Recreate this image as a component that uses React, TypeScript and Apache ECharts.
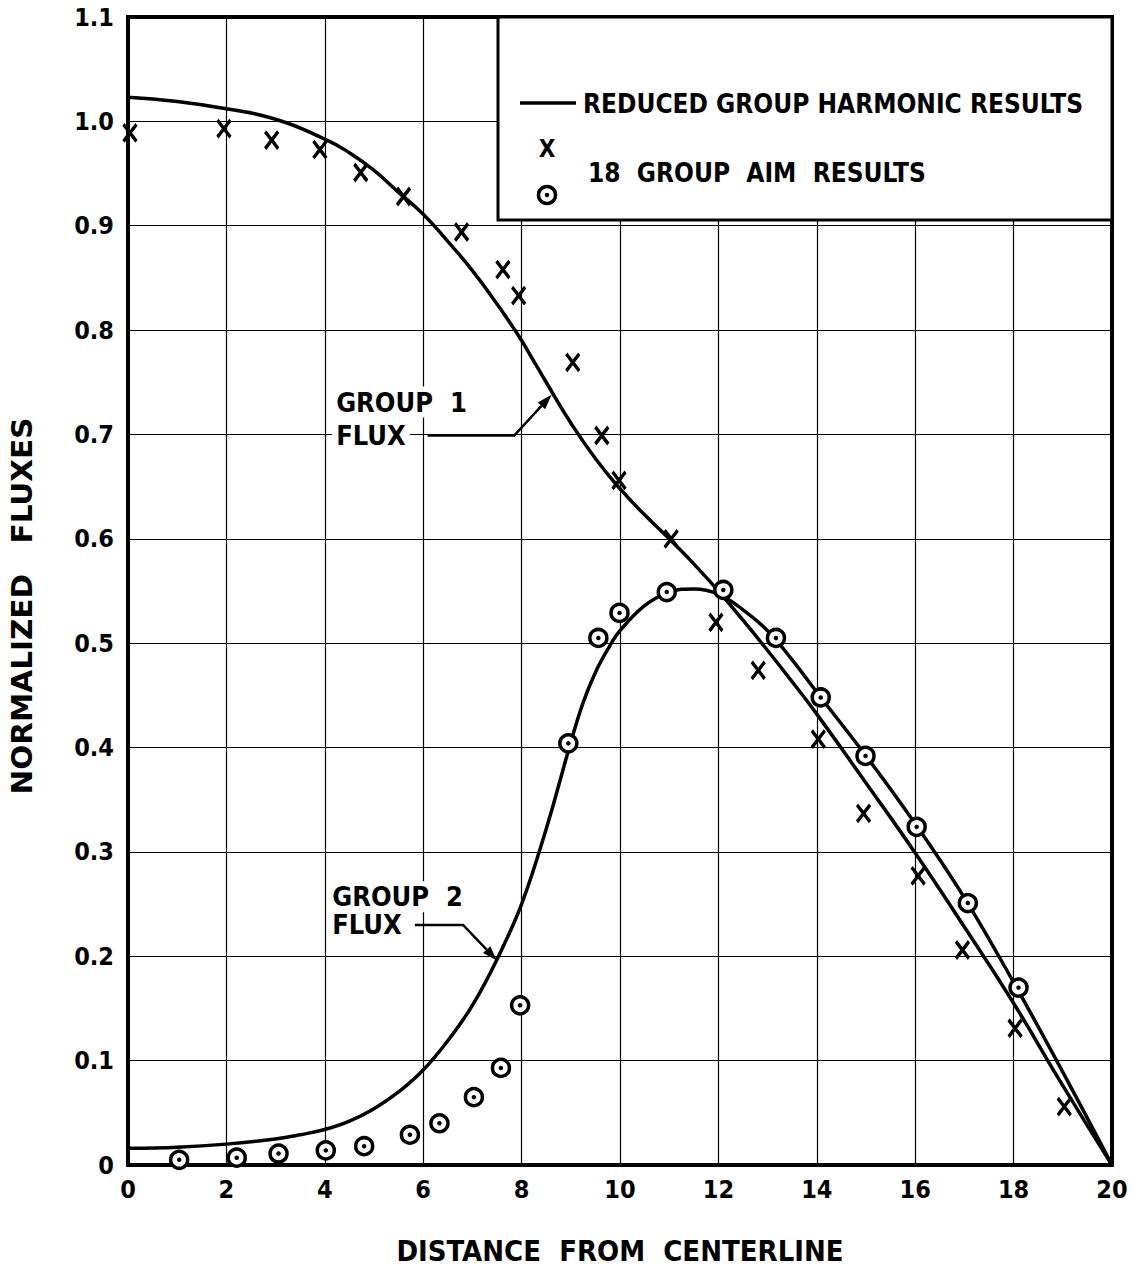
import React, { useEffect, useRef } from "react";
import * as echarts from "echarts";

// Reduced group harmonic results (solid curves)
const group1Curve: [number, number][] = [
  [0, 1.023], [1, 1.019], [2, 1.012], [3, 1.002], [4, 0.983], [4.5, 0.970],
  [5, 0.953], [5.5, 0.932], [6, 0.911], [6.5, 0.885], [7, 0.857], [7.5, 0.825],
  [7.75, 0.808], [8, 0.790], [8.25, 0.770], [8.5, 0.750], [9, 0.711], [9.5, 0.677],
  [10, 0.648], [10.5, 0.623], [11, 0.600], [11.5, 0.576], [12, 0.550], [12.5, 0.522],
  [13, 0.493], [13.5, 0.463], [14, 0.432], [15, 0.366], [16, 0.299], [17, 0.228],
  [18, 0.155], [19, 0.076], [20, 0],
];
const group2Curve: [number, number][] = [
  [0, 0.016], [1, 0.017], [2, 0.020], [3, 0.025], [3.5, 0.029], [4, 0.034], [4.5, 0.042],
  [5, 0.054], [5.5, 0.070], [6, 0.091], [6.5, 0.119], [7, 0.153], [7.5, 0.197],
  [8, 0.250], [8.5, 0.322], [9, 0.405], [9.25, 0.443], [9.5, 0.472], [9.75, 0.494],
  [10, 0.512], [10.5, 0.536], [11, 0.549], [11.5, 0.552], [12, 0.547], [12.5, 0.532],
  [13, 0.512], [13.5, 0.484], [14, 0.453], [15, 0.392], [16, 0.327], [17, 0.256],
  [18, 0.175], [19, 0.089], [20, 0],
];
// 18 group AIM results
const group1Aim: [number, number][] = [
  [0.04, 0.989], [1.95, 0.993], [2.92, 0.982], [3.9, 0.973], [4.73, 0.951],
  [5.6, 0.928], [6.78, 0.894], [7.62, 0.858], [7.94, 0.833], [9.04, 0.769],
  [9.63, 0.699], [9.98, 0.656], [11.04, 0.600], [11.95, 0.520], [12.81, 0.474],
  [14.03, 0.408], [14.95, 0.337], [16.06, 0.277], [16.96, 0.206], [18.03, 0.131],
  [19.03, 0.056],
];
const group2Aim: [number, number][] = [
  [1.04, 0.005], [2.21, 0.007], [3.06, 0.011], [4.02, 0.014], [4.8, 0.018],
  [5.73, 0.029], [6.33, 0.040], [7.03, 0.065], [7.58, 0.093], [7.97, 0.153],
  [8.95, 0.404], [9.56, 0.505], [9.99, 0.529], [10.95, 0.549], [12.1, 0.551],
  [13.17, 0.505], [14.08, 0.448], [14.99, 0.392], [16.03, 0.324], [17.07, 0.251],
  [18.1, 0.170],
];

const FONT = "'DejaVu Sans Condensed', 'DejaVu Sans', sans-serif";

export default function App() {
  const ref = useRef<HTMLDivElement>(null);
  useEffect(() => {
    if (!ref.current) return;
    const chart = echarts.init(ref.current, null, { renderer: "svg" });
    const axisLabel = { color: "#000", fontSize: 25, fontWeight: "bold" as const, fontFamily: FONT };
    chart.setOption({
      animation: false,
      backgroundColor: "#fff",
      grid: {
        left: 128, right: 26, top: 17, bottom: 113,
        show: true, borderColor: "#000", borderWidth: 4, backgroundColor: "transparent",
      },
      xAxis: {
        type: "value", min: 0, max: 20, interval: 2,
        axisLine: { show: true, lineStyle: { color: "#000", width: 4 } },
        axisTick: { show: false },
        axisLabel: { ...axisLabel, margin: 12 },
        splitLine: { show: true, lineStyle: { color: "#000", width: 1.2 } },
      },
      yAxis: {
        type: "value", min: 0, max: 1.1, interval: 0.1,
        axisLine: { show: true, lineStyle: { color: "#000", width: 4 } },
        axisTick: { show: false },
        axisLabel: {
          ...axisLabel, margin: 14,
          formatter: (v: number) => (Math.abs(v) < 1e-9 ? "0" : v.toFixed(1)),
        },
        splitLine: { show: true, lineStyle: { color: "#000", width: 1.2 } },
      },
      series: [
        {
          name: "Group 1 harmonic", type: "line", data: group1Curve, smooth: 0.5,
          showSymbol: false, lineStyle: { color: "#000", width: 3.5 }, z: 3,
        },
        {
          name: "Group 2 harmonic", type: "line", data: group2Curve, smooth: 0.4,
          showSymbol: false, lineStyle: { color: "#000", width: 3.5 }, z: 3,
        },
        {
          name: "Group 1 AIM", type: "scatter", data: group1Aim,
          symbol: "path://M0,0L13,17M13,0L0,17", symbolSize: [13, 17],
          itemStyle: { color: "#000", borderColor: "#000", borderWidth: 3.5, opacity: 1 }, z: 4,
        },
        {
          name: "Group 2 AIM", type: "scatter", data: group2Aim,
          symbol: "circle", symbolSize: 17,
          itemStyle: { color: "#fff", borderColor: "#000", borderWidth: 3.5, opacity: 1 }, z: 4,
        },
        {
          name: "Group 2 AIM dot", type: "scatter", data: group2Aim,
          symbol: "circle", symbolSize: 4.5, silent: true,
          itemStyle: { color: "#000", opacity: 1 }, z: 5,
        },
      ],
    });

    const px = (x: number, y: number) => chart.convertToPixel({ gridIndex: 0 }, [x, y]) as number[];
    const arrow = (pts: number[][]) => {
      const p = pts.map(([x, y]) => px(x, y));
      const tip = p[p.length - 1];
      const prev = p[p.length - 2];
      const dx = tip[0] - prev[0], dy = tip[1] - prev[1];
      const len = Math.hypot(dx, dy);
      const ux = dx / len, uy = dy / len;
      const L = 15, W = 5;
      const bx = tip[0] - ux * L, by = tip[1] - uy * L;
      const head = [tip, [bx - uy * W, by + ux * W], [bx + uy * W, by - ux * W]];
      const linePts = p.slice(0, -1).concat([[bx, by]]);
      return [
        { type: "polyline", z: 20, shape: { points: linePts }, style: { stroke: "#000", lineWidth: 2.5, fill: null } },
        { type: "polygon", z: 20, shape: { points: head }, style: { fill: "#000" } },
      ];
    };
    const label = (text: string, x: number, y: number) => {
      const p = px(x, y);
      return {
        type: "text", z: 19, x: p[0], y: p[1],
        style: {
          text, fill: "#000", font: `bold 27px ${FONT}`,
          align: "left", verticalAlign: "middle",
          backgroundColor: "#fff", padding: [2, 4],
        },
      };
    };

    chart.setOption({
      graphic: [
        // legend box
        { type: "rect", z: 30, shape: { x: 498, y: 17, width: 614, height: 203 }, style: { fill: "#fff", stroke: "#000", lineWidth: 3 } },
        { type: "line", z: 31, shape: { x1: 520, y1: 103, x2: 576, y2: 103 }, style: { stroke: "#000", lineWidth: 3.5 } },
        { type: "text", z: 31, x: 583, y: 104, style: { text: "REDUCED GROUP HARMONIC RESULTS", fill: "#000", font: `bold 26px ${FONT}`, align: "left", verticalAlign: "middle" } },
        { type: "text", z: 31, x: 547, y: 149, style: { text: "X", fill: "#000", font: `bold 24px ${FONT}`, align: "center", verticalAlign: "middle" } },
        { type: "circle", z: 31, shape: { cx: 547, cy: 195, r: 8.5 }, style: { fill: "#fff", stroke: "#000", lineWidth: 3.5 } },
        { type: "circle", z: 32, shape: { cx: 547, cy: 195, r: 2.2 }, style: { fill: "#000" } },
        { type: "text", z: 31, x: 588, y: 173, style: { text: "18  GROUP  AIM  RESULTS", fill: "#000", font: `bold 26px ${FONT}`, align: "left", verticalAlign: "middle" } },
        // curve annotations
        label("GROUP  1", 4.15, 0.731),
        label("FLUX", 4.15, 0.699),
        ...arrow([[6.09, 0.699], [7.85, 0.699], [8.61, 0.738]]),
        label("GROUP  2", 4.07, 0.257),
        label("FLUX", 4.07, 0.230),
        ...arrow([[5.83, 0.230], [6.81, 0.230], [7.5, 0.196]]),
        // axis titles
        { type: "text", z: 31, x: 620, y: 1252, scaleX: 1.035, style: { text: "DISTANCE  FROM  CENTERLINE", fill: "#000", font: `bold 28px ${FONT}`, align: "center", verticalAlign: "middle" } },
        { type: "text", z: 31, x: 22, y: 606, rotation: Math.PI / 2, scaleX: 1.17, style: { text: "NORMALIZED   FLUXES", fill: "#000", font: `bold 28px ${FONT}`, align: "center", verticalAlign: "middle" } },
      ],
    });
    return () => chart.dispose();
  }, []);
  return <div ref={ref} style={{ position: "absolute", left: 0, top: 0, width: 1138, height: 1278 }} />;
}
